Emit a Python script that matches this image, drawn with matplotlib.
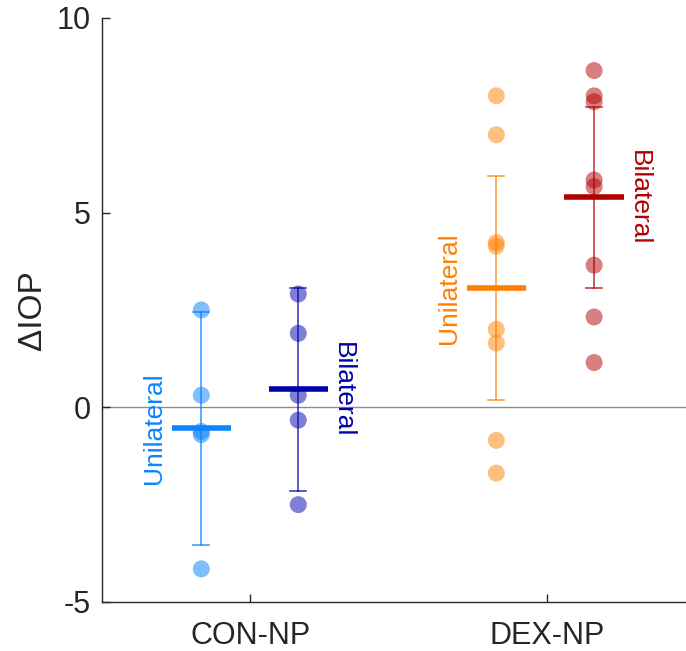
import matplotlib.pyplot as plt
import numpy as np

plt.rcParams['font.family'] = ['Liberation Sans', 'DejaVu Sans']

groups = ['CON-NP', 'DEX-NP']
conditions = ['Unilateral', 'Bilateral', 'Unilateral', 'Bilateral']

# individual points per condition
con_uni = [2.5, 0.31, -0.62, -0.7, -4.15]
con_bi = [2.91, 1.9, 0.31, -0.33, -2.5]
dex_uni = [8.0, 7.0, 4.23, 4.14, 2.0, 1.65, -0.85, -1.69]
dex_bi = [8.65, 8.0, 7.85, 5.84, 5.67, 3.65, 2.32, 1.15]

# error bar extents (lower, upper)
err_low = [-3.53, -2.15, 0.18, 3.07]
err_high = [2.45, 3.06, 5.94, 7.71]

point_colors = ['#0080ff', '#0000aa', '#ff8000', '#b20000']
bar_colors = ['#0a84ff', '#0000a8', '#ff8000', '#b00000']

all_points = [con_uni, con_bi, dex_uni, dex_bi]
xpos = [1 - 0.165, 1 + 0.162, 2 - 0.17, 2 + 0.16]

fig = plt.figure(figsize=(6.86, 6.51), dpi=100)
ax = fig.add_axes([0.1487, 0.0753, 0.8513, 0.8971])

ax.axhline(0, color='#8c8c8c', linewidth=1, zorder=1)

for i, pts in enumerate(all_points):
    x = xpos[i]
    m = np.mean(pts)
    ax.scatter([x] * len(pts), pts, s=150, color=point_colors[i], alpha=0.5,
               edgecolors='none', zorder=2)
    ax.plot([x, x], [err_low[i], err_high[i]], color=point_colors[i], alpha=0.75,
            linewidth=1.2, zorder=3)
    for e in (err_low[i], err_high[i]):
        ax.plot([x - 0.027, x + 0.027], [e, e], color=point_colors[i], alpha=0.75,
                linewidth=1.2, zorder=3)
    ax.plot([x - 0.1, x + 0.1], [m, m], color=bar_colors[i], linewidth=4,
            solid_capstyle='butt', zorder=4)
    if conditions[i] == 'Unilateral':
        ax.text(x - 0.16, m, conditions[i], rotation=90, ha='center', va='center',
                fontsize=19, color=bar_colors[i])
    else:
        ax.text(x + 0.152, m, conditions[i], rotation=270, ha='center', va='center',
                fontsize=19, color=bar_colors[i])

ax.set_xlim(0.5, 2.47)
ax.set_ylim(-5, 10)
ax.set_xticks([1, 2])
ax.set_xticklabels(groups)
ax.set_yticks([-5, 0, 5, 10])
ax.set_yticklabels(['-5', '0', '5', '10'])
ax.set_ylabel('ΔIOP', fontsize=24, color='#262626', labelpad=6)

ax.spines['top'].set_visible(False)
ax.spines['right'].set_visible(False)
for s in ('left', 'bottom'):
    ax.spines[s].set_color('#262626')
    ax.spines[s].set_linewidth(1)
ax.tick_params(direction='in', length=6, width=1, colors='#262626',
               labelsize=22, pad=8)
ax.tick_params(axis='x', pad=14)

fig.savefig('out.png', dpi=100)
